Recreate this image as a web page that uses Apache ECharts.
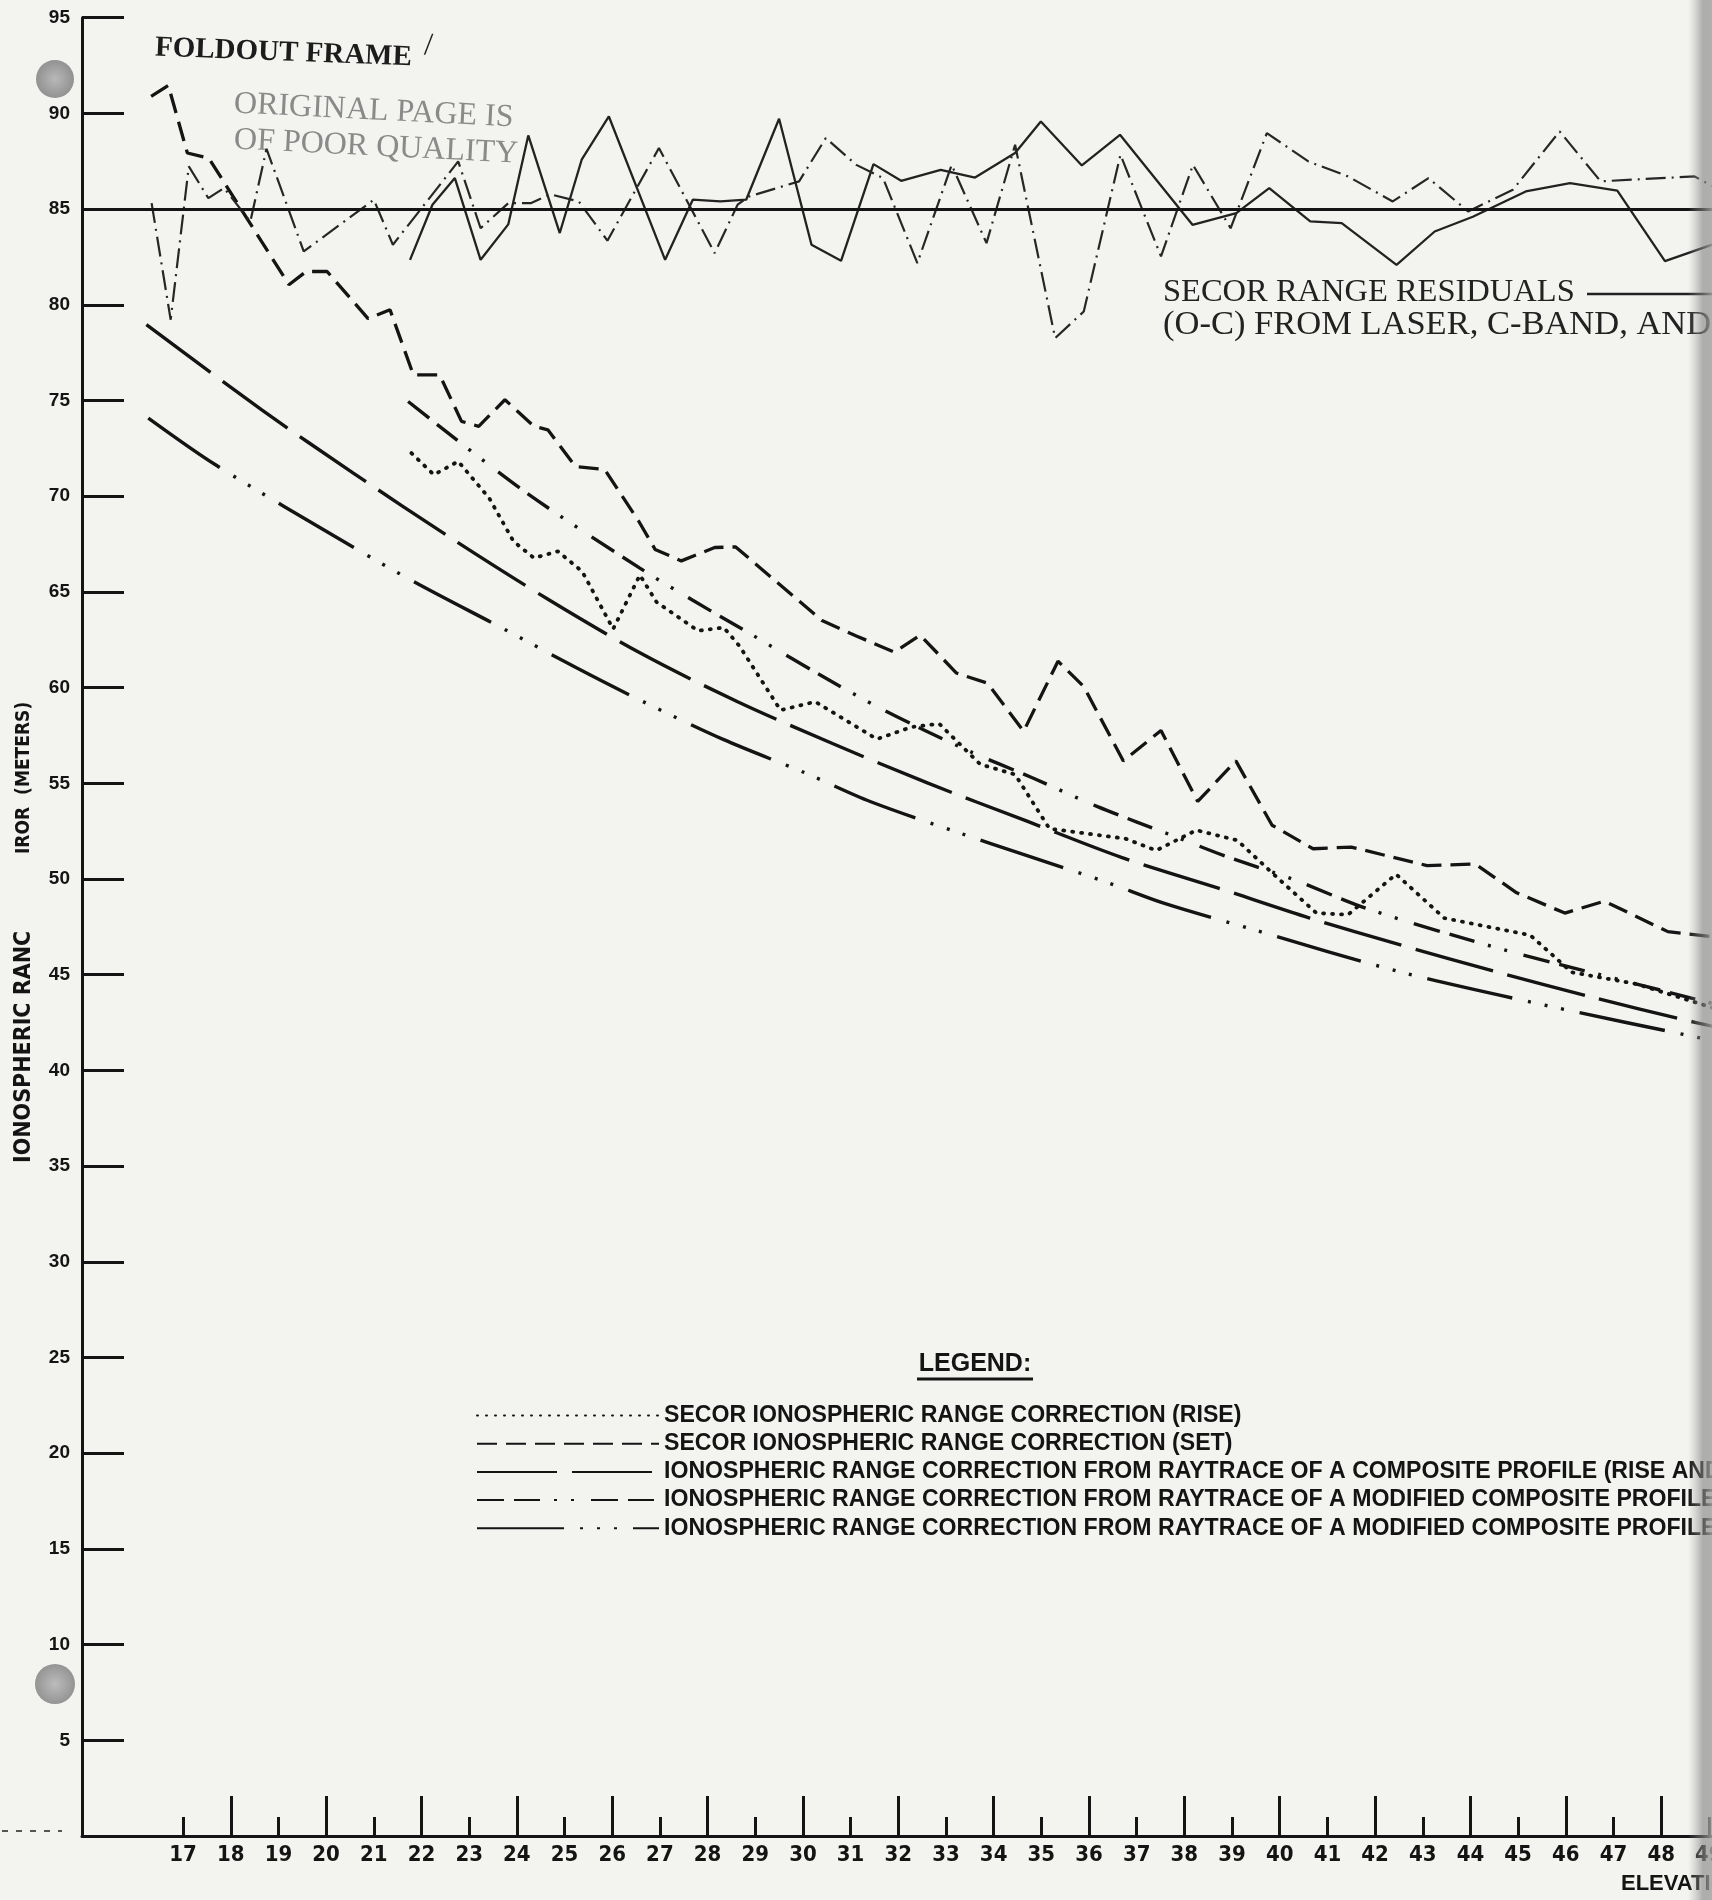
<!DOCTYPE html>
<html>
<head>
<meta charset="utf-8">
<title>Ionospheric range error vs elevation</title>
<script src="https://cdn.jsdelivr.net/npm/echarts@6/dist/echarts.min.js"></script>
<style>
  html, body { margin: 0; padding: 0; background: #f3f3f0; }
  #chart { width: 1712px; height: 1900px; }
</style>
</head>
<body>
<div id="chart"></div>
<script>
// 坐标轴范围
const xMin = 14.88;
const xMax = 50;
const xLabelValues = [17, 18, 19, 20, 21, 22, 23, 24, 25, 26, 27, 28, 29, 30, 31, 32, 33,
                      34, 35, 36, 37, 38, 39, 40, 41, 42, 43, 44, 45, 46, 47, 48, 49];
const xLongTicks = [18, 20, 22, 24, 26, 28, 30, 32, 34, 36, 38, 40, 42, 44, 46, 48];
const xShortTicks = [17, 19, 21, 23, 25, 27, 29, 31, 33, 35, 37, 39, 41, 43, 45, 47, 49];
const residualBase = 85;

// 系列数据 [仰角, 米]
const riseData = [[21.79, 72.25], [22.26, 71.12], [22.77, 71.82], [23.42, 69.90], [23.93, 67.64],
  [24.36, 66.77], [24.86, 67.12], [25.37, 66.07], [26.02, 63.06], [26.58, 65.88], [26.93, 64.47],
  [27.80, 62.97], [28.34, 63.14], [28.67, 62.17], [29.53, 58.82], [30.26, 59.26], [31.55, 57.31],
  [32.28, 57.94], [32.86, 58.11], [33.22, 57.22], [33.72, 55.99], [34.45, 55.46], [35.17, 52.63],
  [36.76, 52.11], [37.41, 51.49], [38.25, 52.55], [39.11, 52.02], [39.91, 50.16], [40.77, 48.22],
  [41.43, 48.13], [42.44, 50.25], [43.45, 47.96], [45.25, 47.07], [45.69, 46.10], [46.12, 45.13],
  [47.49, 44.51], [49.07, 43.28]];

const setData = [[16.33, 90.89], [16.69, 91.46], [17.09, 87.93], [17.54, 87.66], [19.22, 81.05],
  [19.58, 81.74], [20.02, 81.74], [20.88, 79.28], [21.34, 79.74], [21.83, 76.34], [22.38, 76.34],
  [22.84, 73.91], [23.20, 73.65], [23.75, 75.04], [24.36, 73.65], [24.65, 73.47], [25.23, 71.55],
  [25.84, 71.40], [26.56, 68.68], [26.90, 67.22], [27.45, 66.62], [28.15, 67.32], [28.59, 67.35],
  [30.40, 63.50], [31.12, 62.70], [31.92, 61.85], [32.46, 62.74], [33.22, 60.76], [33.87, 60.23],
  [34.63, 57.72], [35.35, 61.38], [35.89, 60.05], [36.72, 56.17], [37.51, 57.76], [38.28, 54.05],
  [39.08, 56.17], [39.84, 52.81], [40.70, 51.58], [41.50, 51.67], [43.09, 50.70], [44.10, 50.78],
  [44.97, 49.28], [45.98, 48.22], [46.81, 48.84], [48.14, 47.25], [49.07, 46.99]];

const compositeData = [[16.23, 78.96], [18.65, 74.51], [20.57, 71.21], [22.62, 67.81], [24.61, 64.68],
  [26.58, 61.82], [28.63, 59.26], [30.62, 57.08], [32.61, 55.02], [34.70, 53.02], [36.68, 51.13],
  [38.68, 49.55], [40.63, 47.96], [42.55, 46.54], [44.57, 45.13], [46.59, 43.80], [48.47, 42.65],
  [49.07, 42.31]];

const modified1Data = [[21.72, 74.95], [24.11, 70.34], [26.58, 66.24], [27.69, 64.56], [28.85, 62.88],
  [30.29, 60.76], [31.70, 58.82], [33.47, 56.70], [34.81, 55.29], [36.18, 53.78], [37.83, 52.19],
  [38.79, 51.26], [40.28, 49.98], [41.89, 48.40], [44.75, 46.27], [47.35, 44.60], [48.87, 43.63],
  [49.07, 43.50]];

const modified2Data = [[16.27, 74.08], [17.68, 71.64], [20.60, 67.29], [21.97, 65.36], [23.67, 63.14],
  [25.26, 61.02], [26.58, 59.35], [28.34, 57.28], [30.04, 55.55], [31.41, 54.05], [33.29, 52.40],
  [34.59, 51.31], [36.36, 49.84], [37.55, 48.75], [39.47, 47.34], [42.55, 45.13], [45.65, 43.36],
  [48.83, 41.69], [49.07, 41.56]];

const residualSolid = [[21.76, 82.35], [22.23, 85.23], [22.70, 86.62], [23.24, 82.35], [23.82, 84.20],
  [24.24, 88.85], [24.90, 83.75], [25.36, 87.58], [25.93, 89.84], [27.11, 82.35], [27.69, 85.49],
  [28.27, 85.40], [28.81, 85.49], [29.50, 89.72], [30.18, 83.14], [30.80, 82.30], [31.48, 87.35],
  [32.06, 86.48], [32.89, 87.05], [33.61, 86.65], [34.45, 87.93], [34.99, 89.58], [35.85, 87.28],
  [36.65, 88.88], [38.17, 84.18], [39.09, 84.79], [39.78, 86.10], [40.64, 84.36], [41.30, 84.27],
  [42.45, 82.09], [43.25, 83.83], [44.05, 84.60], [45.16, 85.92], [46.09, 86.36], [47.08, 85.97],
  [48.08, 82.28], [49.07, 83.14]];

const residualDashDot = [[16.34, 85.31], [16.74, 79.22], [17.12, 87.23], [17.53, 85.57], [17.86, 86.10],
  [18.41, 84.35], [18.75, 88.15], [19.53, 82.79], [21.00, 85.49], [21.40, 83.14], [22.77, 87.49],
  [23.24, 84.00], [23.82, 85.31], [24.29, 85.31], [24.71, 85.77], [25.30, 85.40], [25.90, 83.35],
  [26.98, 88.19], [28.15, 82.70], [28.63, 85.23], [28.87, 85.66], [29.92, 86.45], [30.48, 88.71],
  [31.12, 87.31], [31.68, 86.62], [32.40, 82.18], [33.12, 87.31], [33.85, 83.22], [34.45, 88.36],
  [35.29, 78.26], [35.89, 79.65], [36.66, 87.84], [37.51, 82.53], [38.18, 87.31], [38.97, 84.00],
  [39.73, 88.97], [40.60, 87.49], [41.43, 86.71], [42.37, 85.40], [43.12, 86.62], [43.95, 84.88],
  [44.89, 86.01], [45.87, 89.06], [46.73, 86.45], [48.70, 86.71], [49.07, 86.20]];

const legendNames = [
  'SECOR IONOSPHERIC RANGE CORRECTION (RISE)',
  'SECOR IONOSPHERIC RANGE CORRECTION (SET)',
  'IONOSPHERIC RANGE CORRECTION FROM RAYTRACE OF A COMPOSITE PROFILE (RISE AND SET)',
  'IONOSPHERIC RANGE CORRECTION FROM RAYTRACE OF A MODIFIED COMPOSITE PROFILE (RISE)',
  'IONOSPHERIC RANGE CORRECTION FROM RAYTRACE OF A MODIFIED COMPOSITE PROFILE (SET)'
];

const INK = '#141414';
const SANS = "'Liberation Sans Narrow', 'DejaVu Sans Condensed', 'Liberation Sans', sans-serif";
const SANS_WIDE = "'Liberation Sans', Arial, sans-serif";
const SERIF = "'Liberation Serif', 'DejaVu Serif', serif";

// 网格尺寸：x 每度 47.68px，y 每米 19.14px
const gridLeft = 82;
const gridTop = 17.7;
const gridWidth = (xMax - xMin) * 47.68;
const gridHeight = 95 * 19.14;

function lineSeries(name, data, style, extra) {
  return Object.assign({
    name: name,
    type: 'line',
    data: data,
    symbol: 'none',
    showSymbol: false,
    silent: true,
    lineStyle: Object.assign({ color: INK, width: 3 }, style)
  }, extra || {});
}

function textEl(x, y, text, font, fill, rotation, align) {
  const a = align || 'left';
  return { type: 'text', x: x, y: y, rotation: rotation || 0, silent: true,
    style: { text: text, font: font, fill: fill,
      textAlign: a, textVerticalAlign: 'middle', align: a, verticalAlign: 'middle' } };
}

const chart = echarts.init(document.getElementById('chart'), null, { renderer: 'canvas' });

chart.setOption({
  animation: false,
  backgroundColor: '#f3f3f0',
  grid: [
    { left: gridLeft, top: gridTop, width: gridWidth, height: gridHeight, outerBoundsMode: 'none' },
    { left: gridLeft, top: gridTop, width: gridWidth, height: gridHeight, outerBoundsMode: 'none' }
  ],
  xAxis: [{
    type: 'value', gridIndex: 0, min: xMin, max: xMax, position: 'bottom',
    axisLine: { onZero: false, lineStyle: { color: INK, width: 3 } },
    axisTick: { show: true, inside: true, length: 40, customValues: xLongTicks,
      lineStyle: { color: INK, width: 3 } },
    axisLabel: { customValues: xLabelValues, margin: 8, color: INK,
      fontFamily: SANS, fontWeight: 'bold', fontSize: 22 },
    splitLine: { show: false }
  }, {
    type: 'value', gridIndex: 1, min: xMin, max: xMax, position: 'bottom',
    axisLine: { show: false },
    axisTick: { show: true, inside: true, length: 19, customValues: xShortTicks,
      lineStyle: { color: INK, width: 3 } },
    axisLabel: { show: false },
    splitLine: { show: false }
  }],
  yAxis: [{
    type: 'value', gridIndex: 0, min: 0, max: 95, interval: 5,
    axisLine: { show: true, lineStyle: { color: INK, width: 3 } },
    axisTick: { show: true, inside: true, length: 42, lineStyle: { color: INK, width: 3 } },
    axisLabel: { margin: 12, color: INK, fontFamily: SANS_WIDE, fontWeight: 'bold', fontSize: 19,
      formatter: v => (v === 0 ? '' : String(v)) },
    splitLine: { show: false }
  }, {
    type: 'value', gridIndex: 1, min: 0, max: 95, show: false
  }],
  legend: {
    orient: 'vertical',
    left: 471,
    top: 1399,
    itemWidth: 182,
    itemHeight: 22,
    itemGap: 5.2,
    selectedMode: false,
    data: legendNames,
    itemStyle: { color: 'rgba(0,0,0,0)', borderWidth: 0, opacity: 0 },
    textStyle: { color: INK, fontFamily: SANS_WIDE, fontWeight: 'bold', fontSize: 23.1, lineHeight: 22 }
  },
  series: [
    lineSeries(legendNames[0], riseData, { width: 3.8, type: [1, 8], cap: 'round' }),
    lineSeries(legendNames[1], setData, { width: 3.3, type: [20, 9] }),
    lineSeries(legendNames[2], compositeData, { width: 3.4, type: [80, 15] }, { smooth: 0.3 }),
    lineSeries(legendNames[3], modified1Data, { width: 3.4, type: [27, 10, 26, 14, 3, 14, 3, 17] }, { smooth: 0.3 }),
    lineSeries(legendNames[4], modified2Data, { width: 3.4, type: [87, 16, 3, 14, 3, 14, 3, 16] }, { smooth: 0.3 }),
    lineSeries('SECOR RANGE RESIDUALS', residualSolid, { width: 2.3, color: '#222' }, {
      markLine: {
        silent: true, symbol: 'none', label: { show: false },
        lineStyle: { color: INK, width: 3, type: 'solid' },
        data: [{ yAxis: residualBase }]
      }
    }),
    lineSeries('SECOR RANGE RESIDUALS (DASH-DOT)', residualDashDot, { width: 2.2, color: '#262626', type: [20, 6, 2, 6] })
  ],
  graphic: [
    // 纸张右侧阴影
    { type: 'rect', left: 1688, top: 0, z: 100, silent: true,
      shape: { width: 24, height: 1900 },
      style: { fill: new echarts.graphic.LinearGradient(0, 0, 1, 0, [
        { offset: 0, color: 'rgba(160,160,160,0)' },
        { offset: 0.6, color: 'rgba(130,130,130,0.6)' },
        { offset: 1, color: 'rgba(165,165,165,0.85)' }
      ]) } },
    // 装订孔
    { type: 'circle', x: 55, y: 79, silent: true, z: 50, shape: { r: 19 },
      style: { fill: new echarts.graphic.RadialGradient(0.5, 0.5, 0.6, [
        { offset: 0, color: '#b8b8b8' }, { offset: 1, color: '#8a8a8a' }]) } },
    { type: 'circle', x: 55, y: 1684, silent: true, z: 50, shape: { r: 20 },
      style: { fill: new echarts.graphic.RadialGradient(0.5, 0.5, 0.6, [
        { offset: 0, color: '#bcbcbc' }, { offset: 1, color: '#8c8c8c' }]) } },
    // 左下角残留虚线
    { type: 'line', silent: true, shape: { x1: 2, y1: 1831, x2: 62, y2: 1831 },
      style: { stroke: '#555', lineWidth: 2, lineDash: [6, 8] } },
    // 标题文字
    textEl(155, 48, 'FOLDOUT FRAME', 'bold 29px ' + SERIF, '#1c1c1c', -0.038),
    textEl(424, 46, '/', '32px ' + SERIF, '#1c1c1c', -0.038),
    textEl(234, 104, 'ORIGINAL PAGE IS', '32px ' + SERIF, '#8a8a8a', -0.05),
    textEl(234, 140, 'OF POOR QUALITY', '32px ' + SERIF, '#8a8a8a', -0.05),
    textEl(1163, 292, 'SECOR RANGE RESIDUALS', '32.5px ' + SERIF, '#222'),
    { type: 'line', silent: true, shape: { x1: 1587, y1: 294, x2: 1712, y2: 294 },
      style: { stroke: '#222', lineWidth: 2.5 } },
    textEl(1163, 325, '(O-C) FROM LASER, C-BAND, AND', '34.5px ' + SERIF, '#222'),
    // 纵轴标题（原图中部破损）
    textEl(24, 1163, 'IONOSPHERIC RANC', 'bold 23px ' + SANS, INK, Math.PI / 2),
    textEl(24, 854, 'IROR  (METERS)', 'bold 19px ' + SANS, INK, Math.PI / 2),
    // 横轴标题
    textEl(1621, 1884, 'ELEVATION', 'bold 22px ' + SANS_WIDE, INK),
    // 图例标题
    textEl(975, 1364, 'LEGEND:', 'bold 25px ' + SANS_WIDE, INK, 0, 'center'),
    { type: 'line', silent: true, shape: { x1: 917, y1: 1379, x2: 1033, y2: 1379 },
      style: { stroke: INK, lineWidth: 3 } }
  ]
});
</script>
</body>
</html>
